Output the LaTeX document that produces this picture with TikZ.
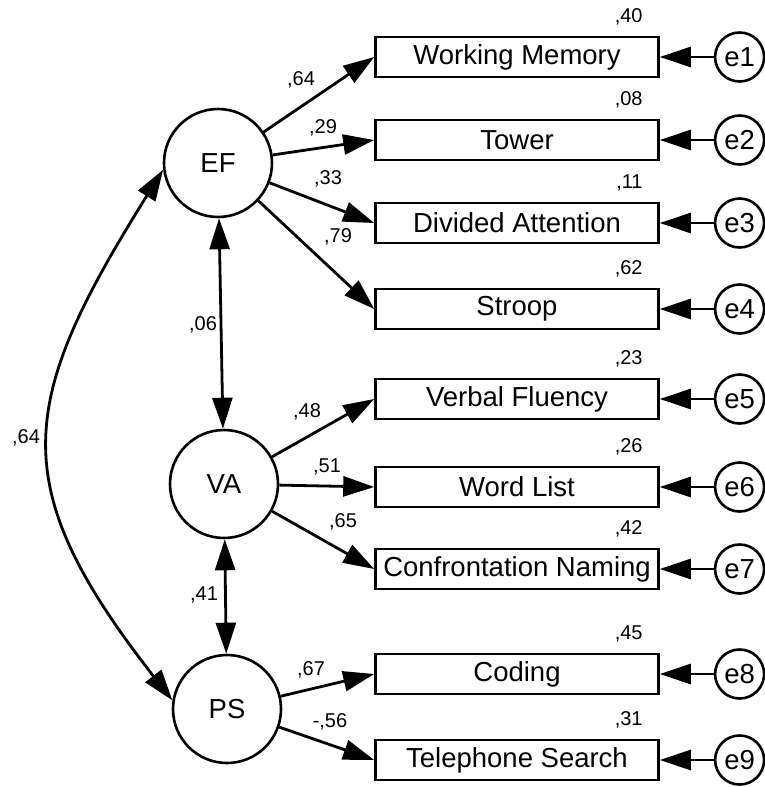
\documentclass[tikz,border=0pt]{standalone}
\usepackage{fontspec}
\setmainfont{Liberation Sans}
\usetikzlibrary{arrows.meta, positioning}

\begin{document}
\begin{tikzpicture}[
            x=1pt, y=-1pt,
            >={Triangle[length=31pt, width=20pt]},
            latent/.style={circle, draw, line width=2.6pt, minimum size=108pt, inner sep=0pt, font=\fontsize{27.5}{32}\selectfont},
            obs/.style={rectangle, draw, line width=2.6pt, minimum width=283pt, minimum height=40pt, inner sep=0pt, font=\fontsize{27.5}{32}\selectfont},
            err/.style={circle, draw, line width=2.6pt, minimum size=49pt, inner sep=0pt, font=\fontsize{27.5}{32}\selectfont},
            lbl/.style={inner sep=0pt, font=\fontsize{20}{24}\selectfont},
            r2/.style={lbl, above left=10pt and 17pt of #1},
            line/.style={draw, ->, line width=2.8pt},
            cov/.style={draw, <->, line width=2.8pt}
        ]
            \useasboundingbox (0,0) rectangle (765,787);

            % Latent factors
            \node [latent] (EF) at (218,163) {EF};
            \node [latent] (VA) at (224,484) {VA};
            \node [latent] (PS) at (227,709) {PS};

            % Indicators
            \node [obs] (wm)  at (517,57)  {Working Memory};
            \node [obs] (tow) at (517,140) {Tower};
            \node [obs] (div) at (517,223) {Divided Attention};
            \node [obs] (str) at (517,309) {Stroop};
            \node [obs] (vf)  at (517,399) {Verbal Fluency};
            \node [obs] (wl)  at (517,487) {Word List};
            \node [obs] (cn)  at (517,569) {Confrontation Naming};
            \node [obs] (cod) at (517,674) {Coding};
            \node [obs] (tel) at (517,760) {Telephone Search};

            % Errors
            \node [err, right=54pt of wm]  (e1) {e1};
            \node [err, right=54pt of tow] (e2) {e2};
            \node [err, right=54pt of div] (e3) {e3};
            \node [err, right=54pt of str] (e4) {e4};
            \node [err, right=54pt of vf]  (e5) {e5};
            \node [err, right=54pt of wl]  (e6) {e6};
            \node [err, right=54pt of cn]  (e7) {e7};
            \node [err, right=54pt of cod] (e8) {e8};
            \node [err, right=54pt of tel] (e9) {e9};

            % Squared multiple correlations
            \node [r2=wm.north east]  (r1) {,40};
            \node [r2=tow.north east] (r2) {,08};
            \node [r2=div.north east] (r3) {,11};
            \node [r2=str.north east] (r4) {,62};
            \node [r2=vf.north east]  (r5) {,23};
            \node [r2=wl.north east]  (r6) {,26};
            \node [r2=cn.north east]  (r7) {,42};
            \node [r2=cod.north east] (r8) {,45};
            \node [r2=tel.north east] (r9) {,31};

            % Loadings and correlations
            \node [lbl] (lwm)  at (301,80)  {,64};
            \node [lbl] (ltow) at (323,128) {,29};
            \node [lbl] (ldiv) at (328,179) {,33};
            \node [lbl] (lstr) at (338,237) {,79};
            \node [lbl] (lvf)  at (307,412) {,48};
            \node [lbl] (lwl)  at (327,467) {,51};
            \node [lbl] (lcn)  at (343,522) {,65};
            \node [lbl] (lcod) at (311,670) {,67};
            \node [lbl] (ltel) at (330,722) {-,56};
            \node [lbl] (lefva) at (203,325) {,06};
            \node [lbl] (lvaps) at (204,595) {,41};
            \node [lbl] (lefps) at (26,438)  {,64};

            % Edges
            \path [line] (EF) -- (wm.west);
            \path [line] (EF) -- (tow.west);
            \path [line] (EF) -- (div.west);
            \path [line] (EF) -- (str.west);
            \path [line] (VA) -- (vf.west);
            \path [line] (VA) -- (wl.west);
            \path [line] (VA) -- (cn.west);
            \path [line] (PS) -- (cod.west);
            \path [line] (PS) -- (tel.west);

            \path [line] (e1) -- (wm.east);
            \path [line] (e2) -- (tow.east);
            \path [line] (e3) -- (div.east);
            \path [line] (e4) -- (str.east);
            \path [line] (e5) -- (vf.east);
            \path [line] (e6) -- (wl.east);
            \path [line] (e7) -- (cn.east);
            \path [line] (e8) -- (cod.east);
            \path [line] (e9) -- (tel.east);

            \path [cov] (EF) -- (VA);
            \path [cov] (VA) -- (PS);
            \path [cov] (EF.187) to[out=238, in=128, looseness=1.32] (PS.171);
        \end{tikzpicture}
\end{document}
